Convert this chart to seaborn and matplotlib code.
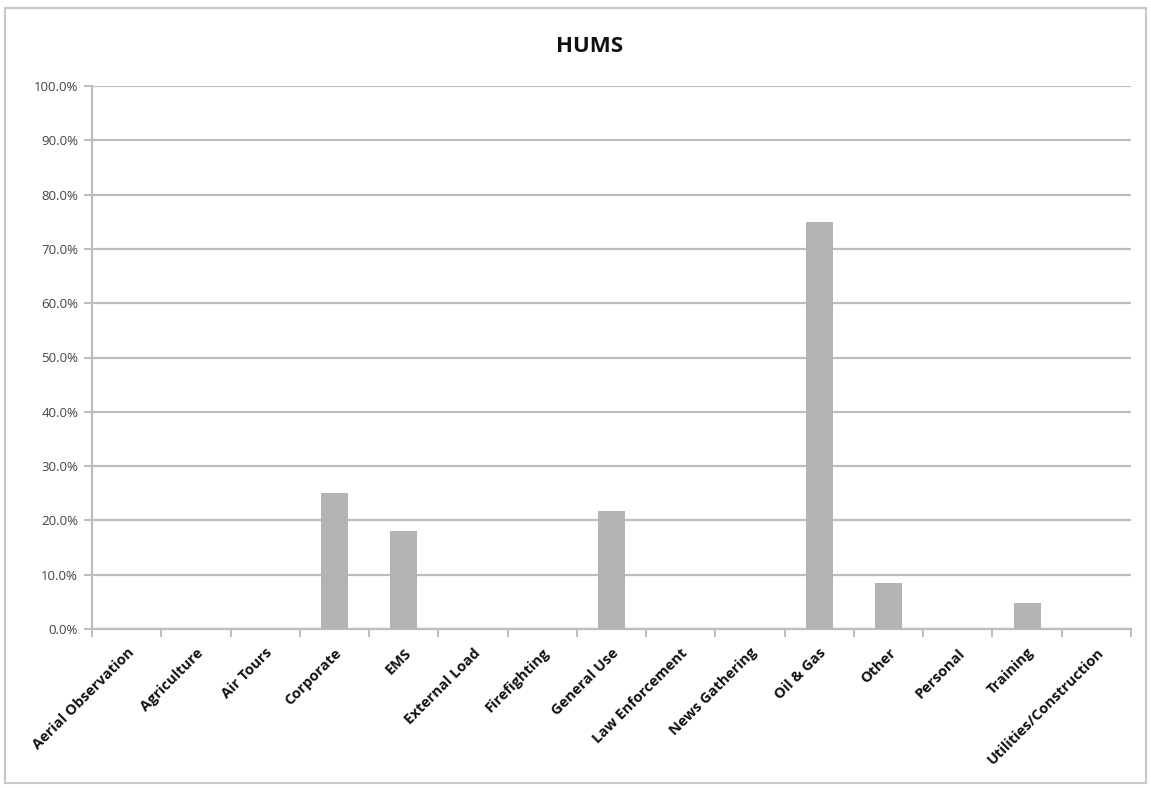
import matplotlib
matplotlib.use("Agg")
import matplotlib.pyplot as plt
import matplotlib.ticker as mticker
from matplotlib.patches import Rectangle
import seaborn as sns
import numpy as np

categories = ["Aerial Observation", "Agriculture", "Air Tours", "Corporate", "EMS",
              "External Load", "Firefighting", "General Use", "Law Enforcement",
              "News Gathering", "Oil & Gas", "Other", "Personal", "Training",
              "Utilities/Construction"]
shares = [0.0, 0.0, 0.0, 0.25, 0.181, 0.0, 0.0, 0.217, 0.0, 0.0, 0.75, 0.084, 0.0, 0.047, 0.0]
y_ticks = [0.0, 0.1, 0.2, 0.3, 0.4, 0.5, 0.6, 0.7, 0.8, 0.9, 1.0]

sns.set_style("white")
plt.rcParams["font.family"] = ["Open Sans", "DejaVu Sans"]

W, H = 1151, 788
fig = plt.figure(figsize=(W / 100, H / 100), dpi=100)
ax = fig.add_axes([92 / W, 1 - 629 / H, (1131 - 92) / W, (629 - 86) / H])

grid_c = "#bdbdbd"
sns.barplot(x=categories, y=shares, color="#b3b3b3", width=0.39, saturation=1,
            linewidth=0, ax=ax, zorder=3)

ax.set_ylim(0, 1.0)
ax.set_xlim(-0.5, len(categories) - 0.5)
ax.set_yticks(y_ticks)
ax.yaxis.set_major_formatter(mticker.PercentFormatter(1.0, decimals=1))
ax.grid(axis="y", color=grid_c, linewidth=1.6, zorder=0)
ax.set_axisbelow(True)

for s in ["top", "right"]:
    ax.spines[s].set_visible(False)
for s in ["left", "bottom"]:
    ax.spines[s].set_color(grid_c)
    ax.spines[s].set_linewidth(1.6)

ax.tick_params(axis="y", which="major", length=6, width=1.4, color=grid_c,
               labelsize=9.5, labelcolor="#444444", pad=4, left=True)
ax.set_xticks(np.arange(len(categories)))
ax.set_xticklabels(categories, rotation=45, ha="right", rotation_mode="anchor",
                   fontsize=10.5, fontweight="bold", color="#111111")
ax.tick_params(axis="x", which="major", length=0, pad=12)
ax.set_xticks(np.arange(len(categories) + 1) - 0.5, minor=True)
ax.tick_params(axis="x", which="minor", length=6, width=1.4, color=grid_c, bottom=True)
ax.set_xlabel("")
ax.set_ylabel("")

fig.text(590 / W, 1 - 47 / H, "HUMS", ha="center", va="center",
         fontsize=16, fontweight="bold", color="#111111")

fig.patches.append(Rectangle((5 / W, 1 - 783 / H), (1146 - 5) / W, (783 - 8) / H,
                             transform=fig.transFigure, fill=False,
                             edgecolor="#c8c8c8", linewidth=1.5))

fig.savefig("out.png", dpi=100)
